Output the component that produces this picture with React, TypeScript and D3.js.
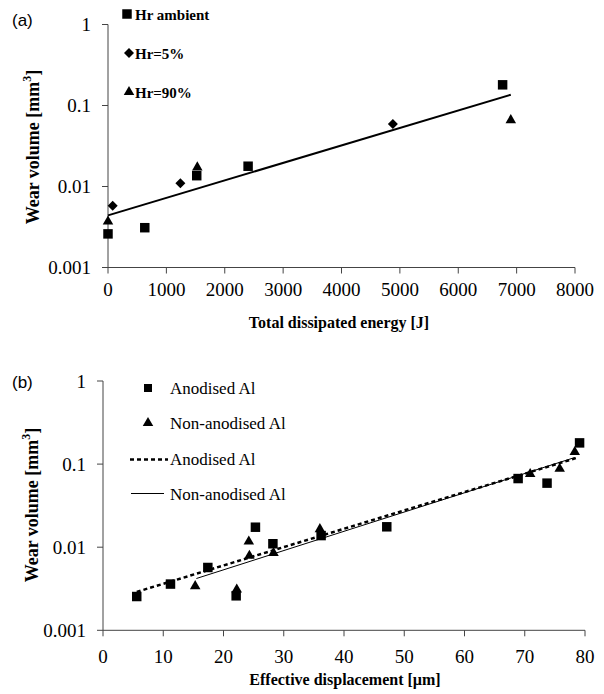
import React from "react";
import * as d3 from "d3";

// ---------- Panel (a) data ----------
const ambientX = [0, 630, 1520, 2400, 6760];
const ambientY = [0.0026, 0.0031, 0.0136, 0.0178, 0.18];
const rh5X = [80, 1240, 4880];
const rh5Y = [0.0058, 0.011, 0.059];
const rh90X = [0, 1530, 6900];
const rh90Y = [0.0037, 0.0172, 0.066];
const trendAX = [0, 6900];
const trendAY = [0.0044, 0.136];
const xTicksA = [0, 1000, 2000, 3000, 4000, 5000, 6000, 7000, 8000];
const yTicks = [0.001, 0.01, 0.1, 1];
const yTickLabels = ["0.001", "0.01", "0.1", "1"];
const legendA = ["Hr ambient", "Hr=5%", "Hr=90%"];

// ---------- Panel (b) data ----------
const anodX = [5.6, 11.2, 17.4, 22.1, 25.3, 28.2, 36.2, 47.1, 68.9, 73.7, 79.1];
const anodY = [0.00255, 0.0036, 0.0057, 0.0026, 0.0174, 0.011, 0.0138, 0.0176, 0.067, 0.059, 0.18];
const nonX = [15.3, 22.2, 24.2, 24.3, 28.3, 36.0, 70.9, 75.8, 78.3];
const nonY = [0.0034, 0.0031, 0.0117, 0.0079, 0.0085, 0.0165, 0.076, 0.088, 0.14];
const anodTrendX = [5.6, 78.5];
const anodTrendY = [0.0029, 0.118];
const nonTrendX = [15.5, 78.3];
const nonTrendY = [0.0042, 0.12];
const xTicksB = [0, 10, 20, 30, 40, 50, 60, 70, 80];
const legendB = ["Anodised Al", "Non-anodised Al", "Anodised Al", "Non-anodised Al"];

const SERIF = "'Liberation Serif', 'Times New Roman', serif";
const SANS = "'Liberation Sans', Arial, sans-serif";
const AXIS = "#444";

const sq = d3.symbol().type(d3.symbolSquare).size(90)();
const sqSmall = d3.symbol().type(d3.symbolSquare).size(64)();
const tri = d3.symbol().type(d3.symbolTriangle).size(48)();
const dia = d3.symbol().type(d3.symbolSquare).size(50)();

function YLabel({ x, y }: { x: number; y: number }) {
  return (
    <text
      transform={`translate(${x},${y}) rotate(-90)`}
      textAnchor="middle"
      fontFamily={SERIF}
      fontWeight="bold"
      fontSize={18}
    >
      Wear volume [mm
      <tspan dy={-8} fontSize={12}>3</tspan>
      <tspan dy={8}>]</tspan>
    </text>
  );
}

function PanelA() {
  const x = d3.scaleLinear().domain([0, 8000]).range([108, 575]);
  const y = d3.scaleLog().domain([0.001, 1]).range([267.5, 24.5]);
  const line = d3
    .line<number>()
    .x((d) => x(d))
    .y((_, i) => y(trendAY[i]));
  return (
    <g>
      <text x={12} y={26} fontFamily={SANS} fontSize={17}>(a)</text>
      <YLabel x={39} y={147} />
      {/* axes */}
      <line x1={x(0)} x2={x(8000)} y1={y(0.001)} y2={y(0.001)} stroke={AXIS} />
      <line x1={x(0)} x2={x(0)} y1={y(0.001)} y2={y(1)} stroke={AXIS} />
      {xTicksA.map((t) => (
        <g key={t}>
          <line x1={x(t)} x2={x(t)} y1={y(0.001)} y2={y(0.001) + 6} stroke={AXIS} />
          <text x={x(t)} y={296} textAnchor="middle" fontFamily={SERIF} fontSize={19}>{t}</text>
        </g>
      ))}
      {yTicks.map((t, i) => (
        <g key={t}>
          <line x1={x(0) - 6} x2={x(0)} y1={y(t)} y2={y(t)} stroke={AXIS} />
          <text x={91} y={y(t)} dy="0.35em" textAnchor="end" fontFamily={SERIF} fontSize={19}>
            {yTickLabels[i]}
          </text>
        </g>
      ))}
      <text x={339} y={328} textAnchor="middle" fontFamily={SERIF} fontWeight="bold" fontSize={16}>
        Total dissipated energy [J]
      </text>
      {/* trend */}
      <path d={line(trendAX) || ""} fill="none" stroke="#000" strokeWidth={2} />
      {/* points */}
      {ambientX.map((v, i) => (
        <path key={"a" + i} d={sq} transform={`translate(${x(v)},${y(ambientY[i])})`} fill="#000" />
      ))}
      {rh5X.map((v, i) => (
        <path key={"b" + i} d={dia} transform={`translate(${x(v)},${y(rh5Y[i])}) rotate(45)`} fill="#000" />
      ))}
      {rh90X.map((v, i) => (
        <path key={"c" + i} d={tri} transform={`translate(${x(v)},${y(rh90Y[i])})`} fill="#000" />
      ))}
      {/* legend */}
      <path d={sq} transform="translate(127,14)" fill="#000" />
      <text x={135} y={20} fontFamily={SERIF} fontWeight="bold" fontSize={15}>{legendA[0]}</text>
      <path d={dia} transform="translate(129,53) rotate(45)" fill="#000" />
      <text x={135} y={59} fontFamily={SERIF} fontWeight="bold" fontSize={15}>{legendA[1]}</text>
      <path d={tri} transform="translate(129,92)" fill="#000" />
      <text x={135} y={98} fontFamily={SERIF} fontWeight="bold" fontSize={15}>{legendA[2]}</text>
    </g>
  );
}

function PanelB() {
  const x = d3.scaleLinear().domain([0, 80]).range([103, 585]);
  const y = d3.scaleLog().domain([0.001, 1]).range([630.3, 381]);
  const mk = (xs: number[], ys: number[]) =>
    d3
      .line<number>()
      .x((d) => x(d))
      .y((_, i) => y(ys[i]))(xs) || "";
  return (
    <g>
      <text x={12} y={388} fontFamily={SANS} fontSize={17}>(b)</text>
      <YLabel x={38} y={505} />
      <line x1={x(0)} x2={x(80)} y1={y(0.001)} y2={y(0.001)} stroke={AXIS} />
      <line x1={x(0)} x2={x(0)} y1={y(0.001)} y2={y(1)} stroke={AXIS} />
      {xTicksB.map((t) => (
        <g key={t}>
          <line x1={x(t)} x2={x(t)} y1={y(0.001)} y2={y(0.001) + 6} stroke={AXIS} />
          <text x={x(t)} y={663} textAnchor="middle" fontFamily={SERIF} fontSize={19}>{t}</text>
        </g>
      ))}
      {yTicks.map((t, i) => (
        <g key={t}>
          <line x1={x(0) - 6} x2={x(0)} y1={y(t)} y2={y(t)} stroke={AXIS} />
          <text x={86} y={y(t)} dy="0.35em" textAnchor="end" fontFamily={SERIF} fontSize={19}>
            {yTickLabels[i]}
          </text>
        </g>
      ))}
      <text x={345} y={685} textAnchor="middle" fontFamily={SERIF} fontWeight="bold" fontSize={16}>
        Effective displacement [µm]
      </text>
      {/* trends */}
      <path d={mk(nonTrendX, nonTrendY)} fill="none" stroke="#000" strokeWidth={1} />
      <path d={mk(anodTrendX, anodTrendY)} fill="none" stroke="#000" strokeWidth={2.5} strokeDasharray="4,3" />
      {/* points */}
      {anodX.map((v, i) => (
        <path key={"a" + i} d={sq} transform={`translate(${x(v)},${y(anodY[i])})`} fill="#000" />
      ))}
      {nonX.map((v, i) => (
        <path key={"n" + i} d={tri} transform={`translate(${x(v)},${y(nonY[i])})`} fill="#000" />
      ))}
      {/* legend */}
      <path d={sqSmall} transform="translate(148,388)" fill="#000" />
      <text x={170} y={394} fontFamily={SERIF} fontSize={17}>{legendB[0]}</text>
      <path d={tri} transform="translate(148,423)" fill="#000" />
      <text x={170} y={429} fontFamily={SERIF} fontSize={17}>{legendB[1]}</text>
      <line x1={130} x2={168} y1={459.5} y2={459.5} stroke="#000" strokeWidth={2.5} strokeDasharray="4,3" />
      <text x={170} y={465} fontFamily={SERIF} fontSize={17}>{legendB[2]}</text>
      <line x1={131} x2={164} y1={493.5} y2={493.5} stroke="#000" strokeWidth={1} />
      <text x={170} y={500} fontFamily={SERIF} fontSize={17}>{legendB[3]}</text>
    </g>
  );
}

export default function App() {
  return (
    <svg
      width={604}
      height={694}
      style={{ position: "absolute", left: 0, top: 0, background: "#fff" }}
    >
      <rect width={604} height={694} fill="#fff" />
      <PanelA />
      <PanelB />
    </svg>
  );
}
